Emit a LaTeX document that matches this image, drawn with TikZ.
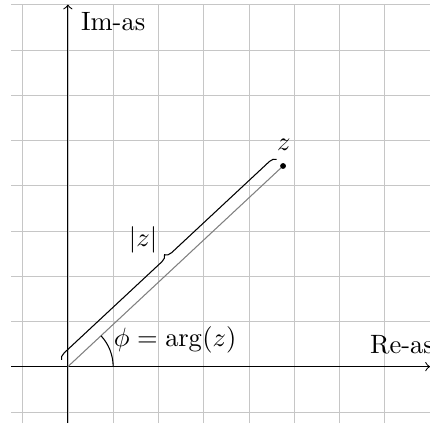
\documentclass[tikz,border=0pt]{standalone}
\usepackage{amsmath}
\usepackage{tikz}
\usetikzlibrary{decorations.pathreplacing}

\begin{document}
\begin{tikzpicture}[x=0.6cm, y=0.6cm, every node/.style={font=\normalsize}]
  \useasboundingbox (-1.5,-1.25) rectangle (8,8.1);

  % Rooster
  \draw[help lines, gray!45, step={(1,1)}] (-1.25,-1.25) grid (8,8);

  % Assen
  \coordinate (xbegin) at (-1.25,0);
  \coordinate (xeind) at (8,0);
  \coordinate (ybegin) at (0,-1.25);
  \coordinate (yeind) at (0,8);
  \draw[->] (xbegin) -- (xeind);
  \draw[->] (ybegin) -- (yeind);
  \node (reas) at (7.38,0.49) {Re-as};
  \node (imas) at (1,7.63) {Im-as};

  % Punt z
  \coordinate (O) at (0,0);
  \coordinate (z) at (43:6.5);
  \draw[gray] (O) -- (z);
  \fill (z) circle (1.1pt);
  \node (zlabel) at (4.77,4.9) {$z$};

  % Modulus en argument
  \draw[decorate, decoration={brace, amplitude=2.5pt, raise=3.5pt}] (O) -- (z);
  \node (modulus) at (1.66,2.8) {$|z|$};
  \draw (1,0) arc (0:43:1);
  \node (argument) at (2.37,0.6) {$\phi = \arg(z)$};
\end{tikzpicture}
\end{document}
